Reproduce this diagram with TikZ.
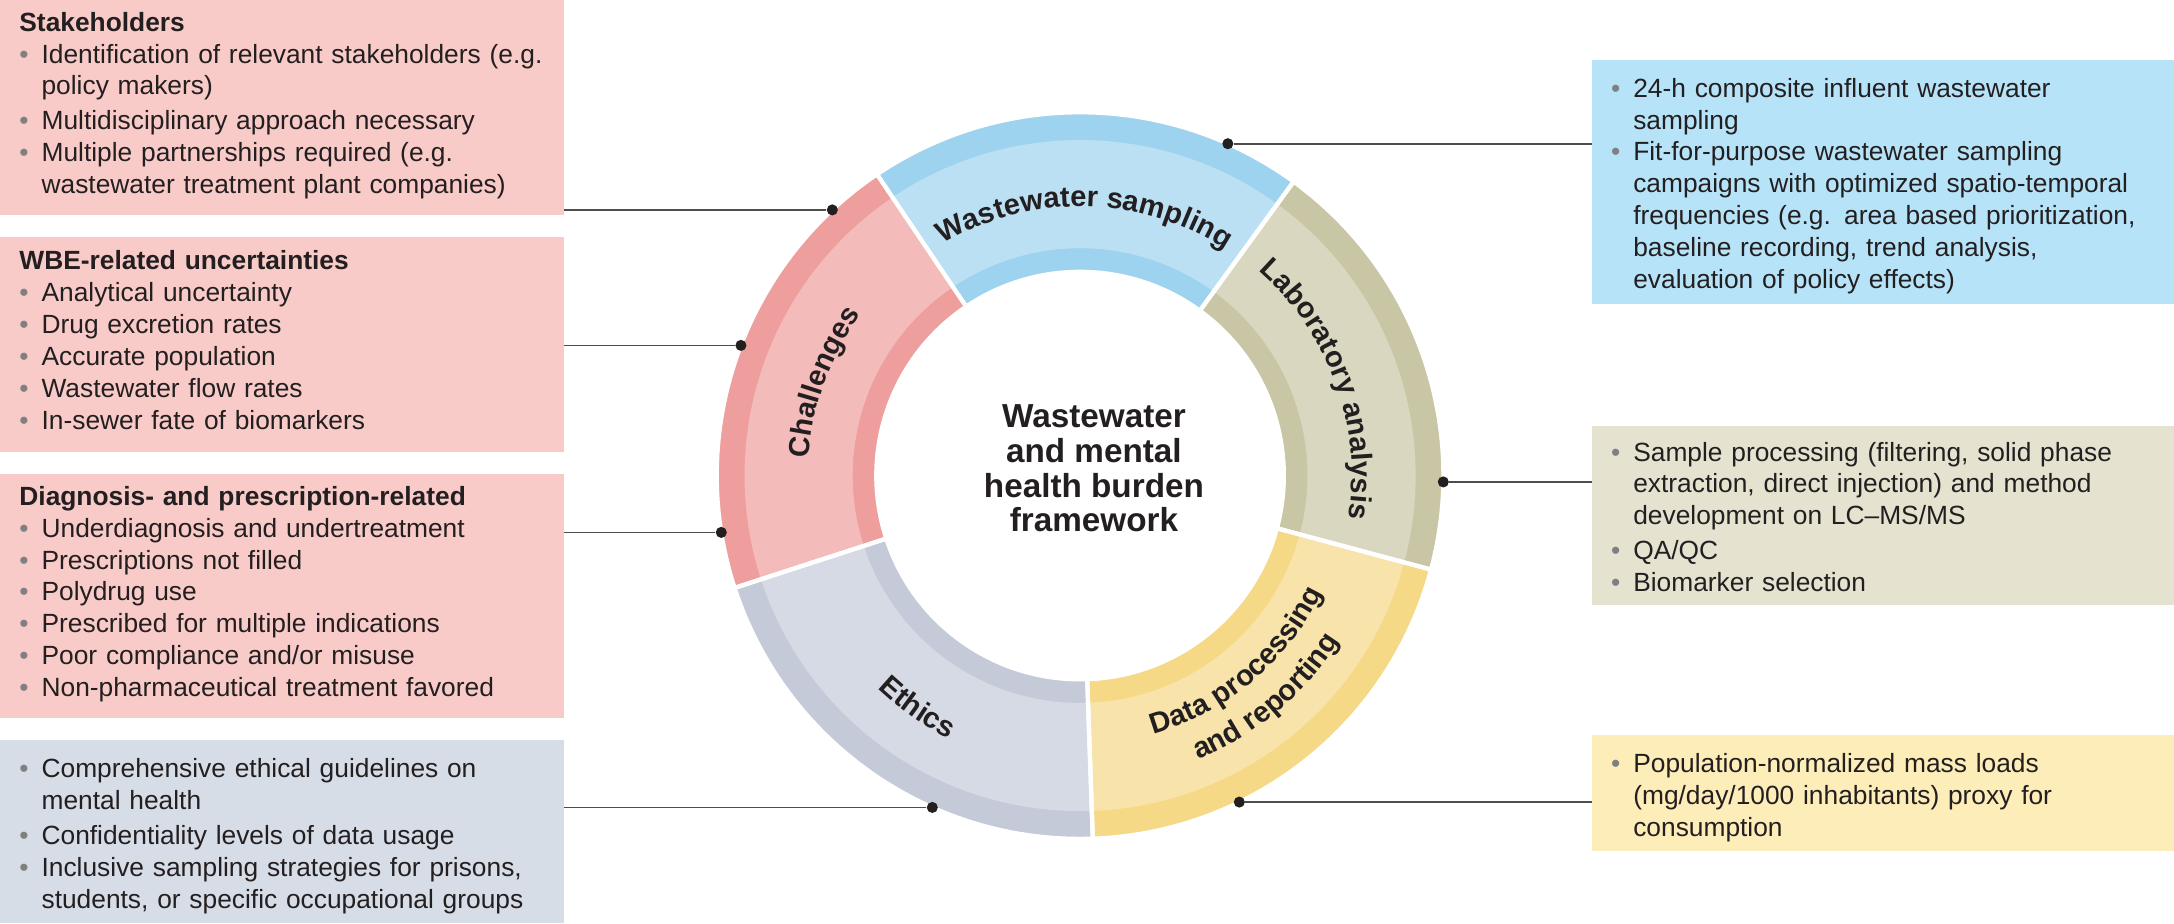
\documentclass[tikz,border=0pt]{standalone}
\usepackage{fontspec}
\setmainfont{Liberation Sans}
\usetikzlibrary{calc,decorations.text}
\definecolor{txt}{HTML}{231F20}
\definecolor{boxpink}{HTML}{F9CBC8}
\definecolor{boxgrey}{HTML}{D7DDE6}
\definecolor{boxblue}{HTML}{B6E3F8}
\definecolor{boxolive}{HTML}{E5E2D0}
\definecolor{boxyellow}{HTML}{FDEDB9}
\definecolor{segred}{HTML}{EE9E9C}
\definecolor{segblue}{HTML}{9ED3F0}
\definecolor{segolive}{HTML}{C9C6A6}
\definecolor{segyellow}{HTML}{F5D987}
\definecolor{seggrey}{HTML}{C5CAD9}
\newcommand{\itm}[1]{\par\noindent\makebox[8pt][l]{\textcolor{gray}{\textbullet}}%
  \parbox[t]{\dimexpr\hsize-8pt\relax}{\raggedright #1\strut}\par}
\newcommand{\segment}[4]{% color, start, end, name
  \fill[#1, draw=white, line width=1.5pt] ($(ctr)+(#2:131pt)$) arc[start angle=#2, end angle=#3, radius=131pt]
    -- ($(ctr)+(#3:73.5pt)$) arc[start angle=#3, end angle=#2, radius=73.5pt] -- cycle;
  \fill[white, opacity=0.3] ($(ctr)+(#2:121pt)$) arc[start angle=#2, end angle=#3, radius=121pt]
    -- ($(ctr)+(#3:82pt)$) arc[start angle=#3, end angle=#2, radius=82pt] -- cycle;
  \draw[white, line width=1.5pt] ($(ctr)+(#2:73.5pt)$) -- ($(ctr)+(#2:131pt)$);
}
\begin{document}
\begin{tikzpicture}[x=0.5pt, y=-0.5pt,
  box/.style={anchor=north west, outer sep=0pt, inner xsep=7pt, inner ysep=0pt, align=left,
    text=txt, font=\fontsize{9.5}{11.5}\selectfont},
  lbox/.style={box, text width=189.5pt, minimum width=203.5pt},
  rbox/.style={box, text width=196pt, minimum width=210pt},
  dot/.style={circle, fill=txt, inner sep=0pt, minimum size=4pt},
  link/.style={draw=txt!80, line width=0.6pt},
  seglabel/.style={decorate, decoration={text along path, text align=center,
    text color=txt, text={|\bfseries\fontsize{10.5}{12}\selectfont|#1}}}]
  \useasboundingbox (0,0) rectangle (1568,666);
  \coordinate (ctr) at (779,343);

  % left boxes
  \node[lbox, fill=boxpink, minimum height=77.5pt] (stake) at (0,0) {\textbf{Stakeholders}
    \itm{Identification of relevant stakeholders (e.g. policy makers)}
    \itm{Multidisciplinary approach necessary}
    \itm{Multiple partnerships required (e.g. wastewater treatment plant companies)}};
  \node[lbox, fill=boxpink, minimum height=77.5pt] (uncert) at (0,171) {\textbf{WBE-related uncertainties}
    \itm{Analytical uncertainty}
    \itm{Drug excretion rates}
    \itm{Accurate population}
    \itm{Wastewater flow rates}
    \itm{In-sewer fate of biomarkers}};
  \node[lbox, fill=boxpink, minimum height=88pt] (diag) at (0,342) {\textbf{Diagnosis- and prescription-related}
    \itm{Underdiagnosis and undertreatment}
    \itm{Prescriptions not filled}
    \itm{Polydrug use}
    \itm{Prescribed for multiple indications}
    \itm{Poor compliance and/or misuse}
    \itm{Non-pharmaceutical treatment favored}};
  \node[lbox, fill=boxgrey, minimum height=66pt] (ethbox) at (0,534) {%
    \itm{Comprehensive ethical guidelines on\newline mental health}
    \itm{Confidentiality levels of data usage}
    \itm{Inclusive sampling strategies for prisons, students, or specific occupational groups}};

  % right boxes
  \node[rbox, fill=boxblue, minimum height=88pt] (sampbox) at (1148,43) {%
    \itm{24-h composite influent wastewater\newline sampling}
    \itm{Fit-for-purpose wastewater sampling campaigns with optimized spatio-temporal frequencies (e.g. area based prioritization, baseline recording, trend analysis, evaluation of policy effects)}};
  \node[rbox, fill=boxolive, minimum height=64.5pt] (labbox) at (1148,307) {%
    \itm{Sample processing (filtering, solid phase extraction, direct injection) and method development on LC--MS/MS}
    \itm{QA/QC}
    \itm{Biomarker selection}};
  \node[rbox, fill=boxyellow, minimum height=42pt] (databox) at (1148,530) {%
    \itm{Population-normalized mass loads (mg/day/1000 inhabitants) proxy for consumption}};

  % ring
  \segment{segblue}{124}{54}{samp}
  \segment{segolive}{54}{-15}{lab}
  \segment{segyellow}{-15}{-88}{data}
  \segment{seggrey}{-88}{-162}{eth}
  \segment{segred}{198}{124}{chal}

  % segment labels
  \path[seglabel={Wastewater sampling}] ($(ctr)+(150:97pt)$) arc[start angle=150, end angle=28, radius=97pt];
  \path[seglabel={Laboratory analysis}] ($(ctr)+(80:98pt)$) arc[start angle=80, end angle=-40, radius=98pt];
  \path[seglabel={Data processing}] ($(ctr)+(-110:97pt)$) arc[start angle=-110, end angle=10, radius=97pt];
  \path[seglabel={and reporting}] ($(ctr)+(-110:111pt)$) arc[start angle=-110, end angle=10, radius=111pt];
  \path[seglabel={Ethics}] ($(ctr)+(-170:106pt)$) arc[start angle=-170, end angle=-80, radius=106pt];
  \path[seglabel={Challenges}] ($(ctr)+(215:98pt)$) arc[start angle=215, end angle=105, radius=98pt];

  \node[align=center, text=txt, font=\bfseries\fontsize{12}{12.5}\selectfont] (title) at (789,338)
    {Wastewater\\and mental\\health burden\\framework};

  % connectors
  \node[dot] (d1) at ($(ctr)+(133:131pt)$) {};
  \node[dot] (d2) at ($(ctr)+(159:131pt)$) {};
  \node[dot] (d3) at ($(ctr)+(189:131pt)$) {};
  \node[dot] (d4) at ($(ctr)+(-114:131pt)$) {};
  \node[dot] (d5) at ($(ctr)+(66:131pt)$) {};
  \node[dot] (d6) at ($(ctr)+(-1:131pt)$) {};
  \node[dot] (d7) at ($(ctr)+(-64:131pt)$) {};
  \draw[link] (d1) -- (stake.east |- d1);
  \draw[link] (d2) -- (uncert.east |- d2);
  \draw[link] (d3) -- (diag.east |- d3);
  \draw[link] (d4) -- (ethbox.east |- d4);
  \draw[link] (d5) -- (sampbox.west |- d5);
  \draw[link] (d6) -- (labbox.west |- d6);
  \draw[link] (d7) -- (databox.west |- d7);
\end{tikzpicture}
\end{document}
